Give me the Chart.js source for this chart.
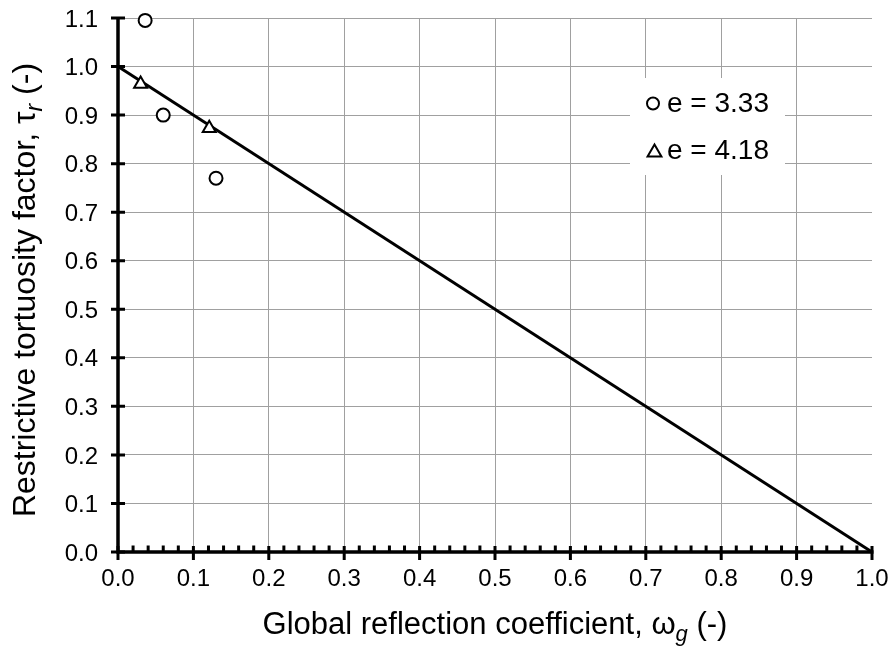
<!DOCTYPE html>
<html><head><meta charset="utf-8">
<script src="https://cdn.jsdelivr.net/npm/chart.js@4.4.0/dist/chart.umd.min.js"></script>
<style>html,body{margin:0;padding:0;background:#fff}#wrap{width:891px;height:648px}</style>
</head><body><div id="wrap"><canvas id="c" width="891" height="648"></canvas></div>
<script>
const FONT = '"Liberation Sans", Arial, Helvetica, sans-serif';

// ---- data ----
const circleLabel = 'e = 3.33';
const circleX = [0.036, 0.060, 0.130];
const circleY = [1.095, 0.900, 0.770];

const triangleLabel = 'e = 4.18';
const triangleX = [0.030, 0.121];
const triangleY = [0.964, 0.873];

const fitX = [0.0, 1.0];
const fitY = [1.0, 0.0];

const xTickValues = [0.0, 0.1, 0.2, 0.3, 0.4, 0.5, 0.6, 0.7, 0.8, 0.9, 1.0];
const yTickValues = [0.0, 0.1, 0.2, 0.3, 0.4, 0.5, 0.6, 0.7, 0.8, 0.9, 1.0, 1.1];
const xMinorStep = 0.02;

const xTitleParts = ['Global reflection coefficient, ω', 'g', ' (-)'];
const yTitleParts = ['Restrictive tortuosity factor, τ', 'r', ' (-)'];

// ---- helpers ----
function pts(xs, ys) { return xs.map((x, i) => ({x: x, y: ys[i]})); }

function drawRichText(ctx, parts, size, subSize, subDy) {
  const fonts = [size + 'px ' + FONT, 'italic ' + subSize + 'px ' + FONT, size + 'px ' + FONT];
  let total = 0;
  const w = parts.map((t, i) => { ctx.font = fonts[i]; const m = ctx.measureText(t).width; total += m; return m; });
  let x = -total / 2;
  parts.forEach((t, i) => {
    ctx.font = fonts[i];
    ctx.fillText(t, x, i === 1 ? subDy : 0);
    x += w[i];
  });
}

const decor = {
  id: 'decor',
  beforeDatasetsDraw(chart) {
    const ctx = chart.ctx;
    ctx.save();
    ctx.fillStyle = '#ffffff';
    ctx.fillRect(630, 78, 155, 97);
    ctx.restore();
  },
  afterDraw(chart) {
    const ctx = chart.ctx;
    const xs = chart.scales.x, ys = chart.scales.y;
    const x0 = xs.getPixelForValue(0), x1 = xs.getPixelForValue(1);
    const y0 = ys.getPixelForValue(0), yTop = ys.getPixelForValue(1.1);
    ctx.save();
    ctx.strokeStyle = '#000';
    ctx.lineCap = 'butt';
    // axes
    ctx.lineWidth = 3.5;
    ctx.beginPath();
    ctx.moveTo(x0, yTop - 1); ctx.lineTo(x0, y0 + 1.5);
    ctx.moveTo(x0 - 1.5, y0); ctx.lineTo(x1 + 1.5, y0);
    ctx.stroke();
    // y major ticks
    ctx.lineWidth = 3;
    ctx.beginPath();
    yTickValues.forEach(v => { const p = ys.getPixelForValue(v); ctx.moveTo(x0 - 7, p); ctx.lineTo(x0 + 7, p); });
    // x major ticks
    xTickValues.forEach(v => { const p = xs.getPixelForValue(v); ctx.moveTo(p, y0 - 6); ctx.lineTo(p, y0 + 8); });
    ctx.stroke();
    // x minor ticks
    ctx.lineWidth = 3;
    ctx.beginPath();
    for (let i = 1; i < 50; i++) {
      if (i % 5 === 0) continue;
      const p = xs.getPixelForValue(i * xMinorStep);
      ctx.moveTo(p, y0 - 6.5); ctx.lineTo(p, y0);
    }
    ctx.stroke();

    // legend
    ctx.lineWidth = 2;
    ctx.fillStyle = '#fff';
    ctx.beginPath(); ctx.arc(653, 103.5, 6, 0, Math.PI * 2); ctx.fill(); ctx.stroke();
    ctx.beginPath();
    const tr = 8, tcx = 654.5, tcy = 152.5;
    ctx.moveTo(tcx, tcy - tr);
    ctx.lineTo(tcx + tr * Math.sin(2 * Math.PI / 3), tcy - tr * Math.cos(2 * Math.PI / 3));
    ctx.lineTo(tcx + tr * Math.sin(4 * Math.PI / 3), tcy - tr * Math.cos(4 * Math.PI / 3));
    ctx.closePath(); ctx.fill(); ctx.stroke();
    ctx.fillStyle = '#000';
    ctx.font = '28px ' + FONT;
    ctx.textAlign = 'left'; ctx.textBaseline = 'alphabetic';
    ctx.fillText(chart.data.datasets[0].label, 667, 112);
    ctx.fillText(chart.data.datasets[1].label, 667, 159);

    // axis titles
    ctx.fillStyle = '#000';
    ctx.save();
    ctx.translate((x0 + x1) / 2, 634);
    drawRichText(ctx, xTitleParts, 31, 22, 7);
    ctx.restore();
    ctx.save();
    ctx.translate(35, 290);
    ctx.rotate(-Math.PI / 2);
    drawRichText(ctx, yTitleParts, 32, 23, 7);
    ctx.restore();
    ctx.restore();
  }
};

new Chart(document.getElementById('c'), {
  type: 'scatter',
  data: {
    datasets: [
      { label: circleLabel, data: pts(circleX, circleY), pointStyle: 'circle', pointRadius: 6.5, pointHoverRadius: 6.5,
        borderColor: '#000', backgroundColor: '#fff', pointBorderWidth: 2, borderWidth: 2, order: 1, clip: false },
      { label: triangleLabel, data: pts(triangleX, triangleY), pointStyle: 'triangle', pointRadius: 7.5, pointHoverRadius: 7.5,
        borderColor: '#000', backgroundColor: '#fff', pointBorderWidth: 2, borderWidth: 2, order: 0, clip: false },
      { label: 'fit', type: 'line', data: pts(fitX, fitY), borderColor: '#000', borderWidth: 3, pointRadius: 0,
        fill: false, showLine: true, tension: 0, order: 2 }
    ]
  },
  options: {
    responsive: false,
    devicePixelRatio: 1,
    animation: false,
    events: [],
    layout: { padding: 0 },
    plugins: { legend: { display: false }, tooltip: { enabled: false } },
    scales: {
      x: {
        type: 'linear', min: 0, max: 1,
        afterBuildTicks: s => { s.ticks = xTickValues.map(v => ({ value: v })); },
        afterFit: s => { s.height = 96; s.paddingLeft = 0; s.paddingRight = 19; },
        ticks: { callback: v => Number(v).toFixed(1), color: '#000', font: { size: 24, family: FONT }, padding: 13, maxRotation: 0, autoSkip: false },
        grid: { color: c => (c.tick && c.tick.value >= 1) ? 'rgba(0,0,0,0)' : '#a0a0a0', lineWidth: 1, drawTicks: false },
        border: { display: false }
      },
      y: {
        type: 'linear', min: 0, max: 1.1,
        afterBuildTicks: s => { s.ticks = yTickValues.map(v => ({ value: v })); },
        afterFit: s => { s.width = 118; s.paddingTop = 18; s.paddingBottom = 0; },
        ticks: { callback: v => Number(v).toFixed(1), color: '#000', font: { size: 24, family: FONT }, padding: 20, labelOffset: 2, autoSkip: false },
        grid: { color: '#a0a0a0', lineWidth: 1, drawTicks: false },
        border: { display: false }
      }
    }
  },
  plugins: [decor]
});
</script>
</body></html>
